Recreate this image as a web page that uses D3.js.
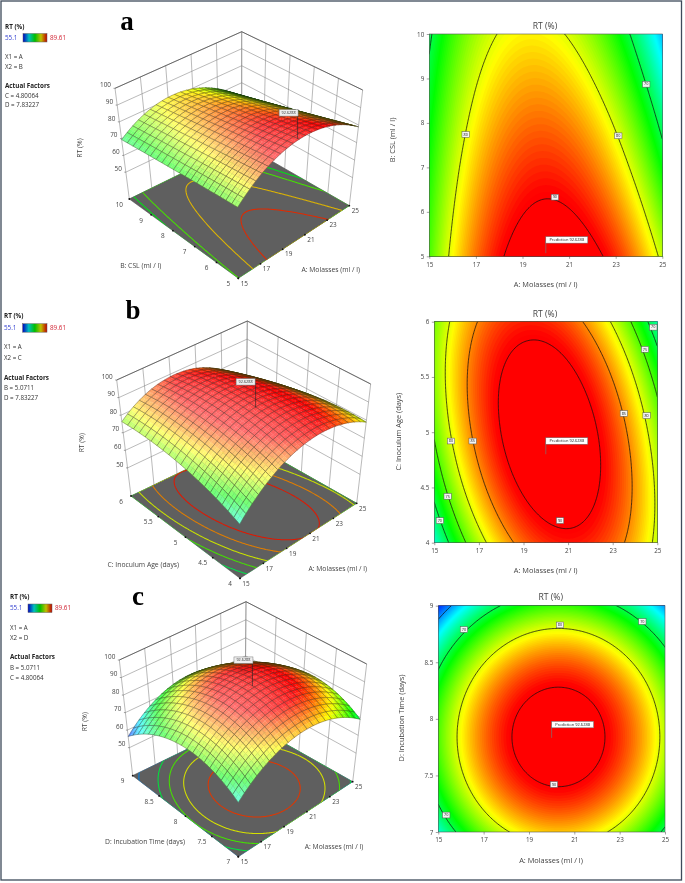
<!DOCTYPE html>
<html>
<head>
<meta charset="utf-8">
<script src="https://cdnjs.cloudflare.com/ajax/libs/d3/7.8.5/d3.min.js"></script>
<style>
  body { margin: 0; background: #fff; }
  svg { display: block; }
  text { font-family: "Open Sans", sans-serif; }
</style>
</head>
<body>
<svg id="chart" width="685" height="883"></svg>
<script>
// factor levels (tick positions)
const molasses = [15, 17, 19, 21, 23, 25];
const csl = [5, 6, 7, 8, 9, 10];
const inoculumAge = [4, 4.5, 5, 5.5, 6];
const incubationTime = [7, 7.5, 8, 8.5, 9];
const rtTicks = [50, 60, 70, 80, 90, 100];

// RT (%) at the tick crossings, one row per second factor level
const rtCsl = [
  [74.80, 85.83, 91.75, 92.59, 88.35, 79.00],
  [73.94, 84.43, 89.84, 90.19, 85.46, 75.66],
  [72.97, 82.93, 87.83, 87.68, 82.47, 72.21],
  [71.87, 81.32, 85.73, 85.10, 79.43, 68.72],
  [70.72, 79.64, 83.53, 82.40, 76.25, 65.07],
  [69.40, 77.83, 81.24, 79.63, 73.01, 61.38]
];
const rtAge = [
  [65.20, 78.30, 86.30, 89.00, 86.50, 78.90],
  [71.46, 83.60, 90.48, 92.03, 88.28, 79.27],
  [75.40, 86.50, 92.26, 92.67, 87.71, 77.39],
  [77.00, 87.09, 91.63, 90.93, 84.78, 73.27],
  [76.30, 85.20, 88.60, 86.80, 79.50, 66.90]
];
const rtTime = [
  [65.17, 76.06, 81.88, 82.64, 78.34, 68.97],
  [73.29, 84.18, 90.00, 90.76, 86.46, 77.09],
  [74.53, 85.42, 91.24, 92.00, 87.70, 78.33],
  [68.89, 79.78, 85.60, 86.36, 82.06, 72.69],
  [56.36, 67.25, 73.07, 73.83, 69.53, 60.16]
];

const levelsCsl = [70, 80, 90];
const levelsAge = [70, 75, 80, 85, 90];
const levelsTime = [60, 70, 80, 90];
// the floor of the 3D plots carries its own contour levels
const floorCsl = [71.5, 75, 82.6, 88];
const floorAge = [69.5, 75, 80, 84.8, 88.7];
const floorTime = [60, 70, 75, 80.5, 87.5];

// contour label positions [A, second factor, text]
const labelsCsl = [[24.31, 8.87, "70"], [16.56, 7.74, "80"], [23.11, 7.71, "80"], [20.39, 6.33, "90"]];
const labelsAge = [[24.82, 5.95, "70"], [24.45, 5.75, "75"], [23.5, 5.17, "85"], [24.52, 5.15, "80"],
  [15.75, 4.92, "80"], [16.72, 4.92, "85"], [15.6, 4.42, "75"], [15.25, 4.2, "70"], [20.64, 4.2, "90"]];
const labelsTime = [[24, 8.86, "70"], [16.13, 8.79, "70"], [20.37, 8.83, "80"], [20.1, 7.42, "90"], [15.35, 7.15, "70"]];

const legendLow = "55.1", legendHigh = "89.61";
const colorStops = [55.1, 63.73, 72.36, 80.98, 89.61];
const colorRange = ["#0000ff", "#00ffff", "#00ff00", "#ffff00", "#ff0000"];

const panels = [
  { letter: "a", grid: rtCsl, second: csl, secondName: "B: CSL (ml / l)", levels: levelsCsl, floor: floorCsl, labels: labelsCsl,
    predict: [20, 5.0711, "92.6288"], x2: "X2 = B", facts: ["C = 4.80064", "D = 7.83227"],
    legend: { x: 5, rt: 27, vals: 38, gx: 23, gy: 33.5, gw: 24, x1: 57, x2: 67, af: 86, f1: 96, f2: 105 },
    letterPos: [127, 30],
    // corners of the 3D box on screen: floor F, R, L, K then top F, R, L, K
    box: { f: [238.3, 278.3], r: [349.3, 205.7], l: [129.3, 199], k: [241.7, 144],
           tf: [237.3, 163.3], tr: [362.7, 90], tl: [115, 88.3], tk: [241.7, 31.7] },
    aLab: [330.7, 270], sLab: [140.7, 265.7], zLab: [80, 148], flagDX: -9,
    heat: { x0: 429.3, x1: 662.3, y0: 34, y1: 256.3, titleX: 545, titleY: 27 , tickY: 268, labY: 285, labX: 545.7, yLabX: 392.7, yLabY: 140 } },
  { letter: "b", grid: rtAge, second: inoculumAge, secondName: "C: Inoculum Age (days)", levels: levelsAge, floor: floorAge, labels: labelsAge,
    predict: [20, 4.80064, "92.6288"], x2: "X2 = C", facts: ["B = 5.0711", "D = 7.83227"],
    legend: { x: 4, rt: 316.7, vals: 328, gx: 22.6, gy: 323.7, gw: 24.4, x1: 347.7, x2: 358, af: 378, f1: 388.6, f2: 398 },
    letterPos: [133, 319],
    box: { f: [240, 578.3], r: [356.7, 503.3], l: [131, 496], k: [246, 440.7],
           tf: [239.3, 463.7], tr: [370.7, 384], tl: [116.7, 380], tk: [247.3, 321] },
    aLab: [337.7, 569], sLab: [143.3, 565], zLab: [81.7, 442.7], flagDX: -10,
    heat: { x0: 434.3, x1: 657.3, y0: 321.7, y1: 542.7, titleX: 545, titleY: 315, tickY: 554, labY: 571, labX: 545.7, yLabX: 399, yLabY: 431.7 } },
  { letter: "c", grid: rtTime, second: incubationTime, secondName: "D: Incubation Time (days)", levels: levelsTime, floor: floorTime, labels: labelsTime,
    predict: [20, 7.83227, "92.6288"], x2: "X2 = D", facts: ["B = 5.0711", "C = 4.80064"],
    legend: { x: 10, rt: 597.7, vals: 608, gx: 28, gy: 604, gw: 24, x1: 628, x2: 638, af: 657.7, f1: 668, f2: 678 },
    letterPos: [138, 605],
    box: { f: [238.3, 856.7], r: [352.7, 781.7], l: [132.7, 775.7], k: [245, 721],
           tf: [238.3, 741.7], tr: [366.7, 664], tl: [119.3, 660], tk: [246, 601.7] },
    aLab: [334, 846.7], sLab: [145, 842.3], zLab: [85, 721.7], flagDX: -9,
    heat: { x0: 438.3, x1: 665, y0: 605.7, y1: 832, titleX: 550.7, titleY: 597.7, tickY: 844, labY: 861, labX: 551, yLabX: 401.7, yLabY: 718 } }
];

const svg = d3.select("#chart");
const defs = svg.append("defs");
const blur = defs.append("filter").attr("id", "soft")
  .attr("filterUnits", "userSpaceOnUse").attr("x", 0).attr("y", 0).attr("width", 685).attr("height", 883)
  .attr("color-interpolation-filters", "sRGB");
blur.append("feGaussianBlur").attr("stdDeviation", 0.35);

const root = svg.append("g").attr("filter", "url(#soft)");
root.append("rect").attr("width", 685).attr("height", 883).attr("fill", "#fff");

const color = d3.scaleLinear().domain(colorStops).range(colorRange).clamp(true);

// legend gradient
const grad = defs.append("linearGradient").attr("id", "legendGrad");
colorStops.forEach((v, i) => {
  grad.append("stop").attr("offset", i / (colorStops.length - 1))
    .attr("stop-color", d3.interpolateRgb(color(v), "#000")(0.25));
});

// smooth reading between the tick crossings of a grid (only for drawing)
function cr(a, b, c, d, t) {
  return b + 0.5 * t * (c - a + t * (2 * a - 5 * b + 4 * c - d + t * (3 * (b - c) + d - a)));
}
function pick(arr, i) {
  const n = arr.length;
  if (i < 0) return 3 * arr[0] - 3 * arr[1] + arr[2];
  if (i >= n) return 3 * arr[n - 1] - 3 * arr[n - 2] + arr[n - 3];
  return arr[i];
}
function cubic1(arr, u) {
  const i = Math.min(Math.floor(u), arr.length - 2);
  return cr(pick(arr, i - 1), arr[i], arr[i + 1], pick(arr, i + 2), u - i);
}
// u, v in 0..1
function readGrid(grid, u, v) {
  const col = u * (grid[0].length - 1);
  const vals = grid.map(r => cubic1(r, col));
  return cubic1(vals, v * (grid.length - 1));
}

function contourSet(p, n, thresholds) {
  const vals = new Array(n * n);
  for (let j = 0; j < n; j++) for (let i = 0; i < n; i++) {
    vals[j * n + i] = readGrid(p.grid, i / (n - 1), j / (n - 1));
  }
  return d3.contours().size([n, n]).thresholds(thresholds)(vals);
}

function label(g, x, y, txt, opt = {}) {
  return g.append("text").attr("x", x).attr("y", y).text(txt)
    .attr("font-size", opt.size || 6.5)
    .attr("fill", opt.fill || "#333")
    .attr("font-weight", opt.weight || null)
    .attr("text-anchor", opt.anchor || "start")
    .attr("dominant-baseline", "middle");
}

function drawLegend(p) {
  const g = root.append("g"), l = p.legend;
  label(g, l.x, l.rt, "RT  (%)", { weight: 700, size: 6.3, fill: "#222" });
  label(g, l.x, l.vals, legendLow, { fill: "#3340d0", size: 6.3 });
  g.append("rect").attr("x", l.gx).attr("y", l.gy).attr("width", l.gw).attr("height", 8.5)
    .attr("fill", "url(#legendGrad)").attr("stroke", "#666").attr("stroke-width", 0.5);
  label(g, l.gx + l.gw + 3, l.vals, legendHigh, { fill: "#d02030", size: 6.3 });
  label(g, l.x, l.x1, "X1 = A", { size: 6.2 });
  label(g, l.x, l.x2, p.x2, { size: 6.2 });
  label(g, l.x, l.af, "Actual Factors", { weight: 700, size: 6.3, fill: "#222" });
  label(g, l.x, l.f1, p.facts[0], { size: 6.2 });
  label(g, l.x, l.f2, p.facts[1], { size: 6.2 });
  g.append("text").attr("x", p.letterPos[0]).attr("y", p.letterPos[1]).text(p.letter)
    .attr("text-anchor", "middle").attr("font-size", 27).attr("font-weight", 700)
    .style("font-family", "'Liberation Serif', serif").attr("fill", "#000");
}

function drawHeat(p, idx) {
  const h = p.heat, g = root.append("g");
  const sec = p.second;
  const x = d3.scaleLinear().domain([15, 25]).range([h.x0, h.x1]);
  const y = d3.scaleLinear().domain([sec[0], sec[sec.length - 1]]).range([h.y1, h.y0]);
  const n = 161;
  // grid cell index back to data units
  const toData = d3.geoTransform({
    point(px, py) {
      this.stream.point(x(15 + (px - 0.5) / (n - 1) * 10), y(sec[0] + (py - 0.5) / (n - 1) * (sec[sec.length - 1] - sec[0])));
    }
  });
  const path = d3.geoPath(toData);
  defs.append("clipPath").attr("id", "heatClip" + idx).append("rect")
    .attr("x", h.x0).attr("y", h.y0).attr("width", h.x1 - h.x0).attr("height", h.y1 - h.y0);
  const plot = g.append("g").attr("clip-path", `url(#heatClip${idx})`);
  plot.append("rect").attr("x", h.x0).attr("y", h.y0).attr("width", h.x1 - h.x0).attr("height", h.y1 - h.y0)
    .attr("fill", color(55));
  plot.selectAll("path.band").data(contourSet(p, n, d3.range(55, 94, 0.35))).join("path")
    .attr("class", "band").attr("d", path).attr("fill", d => color(d.value + 0.17));
  plot.selectAll("path.line").data(contourSet(p, n, p.levels)).join("path")
    .attr("class", "line").attr("d", path).attr("fill", "none")
    .attr("stroke", "#111").attr("stroke-width", 0.75);

  g.append("rect").attr("x", h.x0).attr("y", h.y0).attr("width", h.x1 - h.x0).attr("height", h.y1 - h.y0)
    .attr("fill", "none").attr("stroke", "#555").attr("stroke-width", 0.6);

  const axB = g.append("g").attr("transform", `translate(0,${h.y1})`)
    .call(d3.axisBottom(x).tickValues(molasses).tickSize(2.5).tickFormat(String));
  const axL = g.append("g").attr("transform", `translate(${h.x0},0)`)
    .call(d3.axisLeft(y).tickValues(sec).tickSize(2.5).tickFormat(String));
  [axB, axL].forEach(a => {
    a.select(".domain").remove();
    a.selectAll("line").attr("stroke", "#444").attr("stroke-width", 0.5);
    a.selectAll("text").attr("font-size", 6.3).attr("fill", "#444").style("font-family", "'Open Sans', sans-serif");
  });
  axB.selectAll("text").attr("y", 6);
  axL.selectAll("text").attr("x", -5);

  label(g, h.titleX, h.titleY, "RT   (%)", { size: 8.6, anchor: "middle", fill: "#444" });
  label(g, h.labX, h.labY, "A: Molasses (ml / l)", { size: 7.4, anchor: "middle", fill: "#444" });
  label(g, 0, 0, p.secondName, { size: 7.4, anchor: "middle", fill: "#444" })
    .attr("transform", `translate(${h.yLabX},${h.yLabY}) rotate(-90)`);

  p.labels.forEach(d => {
    g.append("rect").attr("x", x(d[0]) - 3.7).attr("y", y(d[1]) - 2.9).attr("width", 7.4).attr("height", 5.8)
      .attr("fill", "#f4f4f4").attr("stroke", "#555").attr("stroke-width", 0.5);
    label(g, x(d[0]), y(d[1]) + 0.2, d[2], { size: 3.8, anchor: "middle", fill: "#222" });
  });

  const px = x(p.predict[0]), py = y(p.predict[1]);
  g.append("line").attr("x1", px).attr("x2", px).attr("y1", py).attr("y2", py - 12.5)
    .attr("stroke", "#777").attr("stroke-width", 0.7);
  g.append("rect").attr("x", px).attr("y", py - 16.5).attr("width", 42).attr("height", 6.5)
    .attr("fill", "#fff").attr("stroke", "#666").attr("stroke-width", 0.5);
  label(g, px + 21, py - 13.1, "Prediction  " + p.predict[2], { size: 4, anchor: "middle", fill: "#222" });
}

const lerp = (a, b, t) => a + (b - a) * t;

function draw3d(p, idx) {
  const g = root.append("g"), b = p.box, sec = p.second;
  const xs = d3.scaleLinear().domain([15, 25]).range([0, 1]);
  const ys = d3.scaleLinear().domain([sec[0], sec[sec.length - 1]]).range([0, 1]);
  const zs = d3.scaleLinear().domain([34, 100]).range([0, 1]);
  // u along A, v along second factor, w up
  function proj(u, v, w) {
    const corner = (f, r, l, k) => [0, 1].map(c =>
      lerp(lerp(f[c], r[c], u), lerp(l[c], k[c], u), v));
    const lo = corner(b.f, b.r, b.l, b.k), hi = corner(b.tf, b.tr, b.tl, b.tk);
    return [lerp(lo[0], hi[0], w), lerp(lo[1], hi[1], w)];
  }
  const line = d3.line();

  // back walls
  const wall = g.append("g").attr("fill", "none").attr("stroke", "#808080").attr("stroke-width", 0.55);
  wall.append("path").attr("d", line([proj(0, 1, 0), proj(1, 1, 0), proj(1, 0, 0)]));
  rtTicks.forEach(t => {
    wall.append("path").attr("d", line([proj(0, 1, zs(t)), proj(1, 1, zs(t)), proj(1, 0, zs(t))]));
  });
  molasses.forEach(t => wall.append("path").attr("d", line([proj(xs(t), 1, 0), proj(xs(t), 1, 1)])));
  sec.forEach(t => wall.append("path").attr("d", line([proj(1, ys(t), 0), proj(1, ys(t), 1)])));
  g.append("path").attr("d", line([proj(0, 1, 1), proj(1, 1, 1), proj(1, 0, 1)]))
    .attr("fill", "none").attr("stroke", "#444").attr("stroke-width", 0.7);

  // floor with coloured contours
  const floorPts = [proj(0, 0, 0), proj(1, 0, 0), proj(1, 1, 0), proj(0, 1, 0)];
  g.append("path").attr("d", line(floorPts) + "Z").attr("fill", "#5f5f5f").attr("stroke", "#444").attr("stroke-width", 0.5);
  defs.append("clipPath").attr("id", "floorClip" + idx).append("path").attr("d", line(floorPts) + "Z");
  const n = 121;
  const toFloor = d3.geoTransform({
    point(px, py) {
      const q = proj((px - 0.5) / (n - 1), (py - 0.5) / (n - 1), 0);
      this.stream.point(q[0], q[1]);
    }
  });
  g.append("g").attr("clip-path", `url(#floorClip${idx})`).selectAll("path")
    .data(contourSet(p, n, p.floor)).join("path")
    .attr("d", d3.geoPath(toFloor)).attr("fill", "none")
    .attr("stroke", d => d3.interpolateRgb(color(d.value), "#000")(0.12))
    .attr("stroke-width", 1.05);

  // ticks on the two front floor edges
  molasses.forEach(t => {
    const q = proj(xs(t), 0, 0);
    g.append("circle").attr("cx", q[0]).attr("cy", q[1]).attr("r", 0.9).attr("fill", "#111");
    label(g, q[0] + 6, q[1] + 5.5, t, { size: 6.4, anchor: "middle", fill: "#444" });
  });
  sec.forEach(t => {
    const q = proj(0, ys(t), 0);
    g.append("circle").attr("cx", q[0]).attr("cy", q[1]).attr("r", 0.9).attr("fill", "#111");
    label(g, q[0] - 10, q[1] + 6, t, { size: 6.4, anchor: "middle", fill: "#444" });
  });
  rtTicks.forEach(t => {
    const q = proj(0, 1, zs(t));
    label(g, q[0] - 4, q[1] - 3, t, { size: 6.4, anchor: "end", fill: "#444" });
    g.append("line").attr("x1", q[0] - 1.5).attr("x2", q[0]).attr("y1", q[1]).attr("y2", q[1]).attr("stroke", "#444").attr("stroke-width", 0.5);
  });

  label(g, p.aLab[0], p.aLab[1], "A: Molasses (ml / l)", { size: 6.8, anchor: "middle", fill: "#444" });
  label(g, p.sLab[0], p.sLab[1], p.secondName, { size: 6.8, anchor: "middle", fill: "#444" });
  label(g, 0, 0, "RT  (%)", { size: 6.8, anchor: "middle", fill: "#444" })
    .attr("transform", `translate(${p.zLab[0]},${p.zLab[1]}) rotate(-90)`);

  // surface, painted from the back corner to the front one
  const cells = 20, sub = 2, N = cells * sub;
  const at = (i, j) => readGrid(p.grid, i / N, j / N);
  const pt = (i, j) => proj(i / N, j / N, zs(at(i, j)));
  const surf = g.append("g");
  const lightDir = [-0.78, -0.1, 0.62];
  const viewDir = [-0.58, -0.58, 0.57];
  for (let ci = cells - 1; ci >= 0; ci--) for (let cj = cells - 1; cj >= 0; cj--) {
    for (let si = sub - 1; si >= 0; si--) for (let sj = sub - 1; sj >= 0; sj--) {
      const i = ci * sub + si, j = cj * sub + sj;
      const dzu = ((zs(at(i + 1, j)) + zs(at(i + 1, j + 1))) - (zs(at(i, j)) + zs(at(i, j + 1)))) / 2 * N;
      const dzv = ((zs(at(i, j + 1)) + zs(at(i + 1, j + 1))) - (zs(at(i, j)) + zs(at(i + 1, j)))) / 2 * N;
      const len = Math.hypot(dzu, dzv, 1);
      const nrm = [-dzu / len, -dzv / len, 1 / len];
      const sL = d3.sum(nrm, (d, k) => d * lightDir[k]);
      const sV = d3.sum(nrm, (d, k) => d * viewDir[k]);
      let c = color((at(i, j) + at(i + 1, j) + at(i, j + 1) + at(i + 1, j + 1)) / 4);
      c = d3.interpolateRgb(c, "#fff")(0.45 * Math.max(0, Math.min(1, (sL - 0.3) / 0.6)));
      c = d3.interpolateRgb(c, "#000")(0.6 * Math.max(0, Math.min(1, (0.2 - sV) / 0.2)));
      const quad = [pt(i, j), pt(i + 1, j), pt(i + 1, j + 1), pt(i, j + 1)];
      surf.append("path").attr("d", line(quad) + "Z").attr("fill", c).attr("stroke", c).attr("stroke-width", 0.25);
    }
    // cell outline right after its fill so nearer cells can still cover it
    const ring = [];
    for (let s = 0; s <= sub; s++) ring.push(pt(ci * sub + s, cj * sub));
    for (let s = 1; s <= sub; s++) ring.push(pt((ci + 1) * sub, cj * sub + s));
    for (let s = 1; s <= sub; s++) ring.push(pt((ci + 1) * sub - s, (cj + 1) * sub));
    for (let s = 1; s < sub; s++) ring.push(pt(ci * sub, (cj + 1) * sub - s));
    surf.append("path").attr("d", line(ring) + "Z").attr("fill", "none")
      .attr("stroke", "#2a2018").attr("stroke-opacity", 0.6).attr("stroke-width", 0.55);
  }

  // prediction flag
  const s = proj(xs(p.predict[0]), ys(p.predict[1]), zs(+p.predict[2]));
  g.append("line").attr("x1", s[0]).attr("x2", s[0]).attr("y1", s[1]).attr("y2", s[1] - 25)
    .attr("stroke", "#222").attr("stroke-width", 0.6);
  g.append("rect").attr("x", s[0] + p.flagDX - 9.5).attr("y", s[1] - 29).attr("width", 19).attr("height", 6.5)
    .attr("fill", "#eee").attr("stroke", "#777").attr("stroke-width", 0.5);
  label(g, s[0] + p.flagDX, s[1] - 25.6, p.predict[2], { size: 3.8, anchor: "middle", fill: "#333" });
}

panels.forEach((p, i) => {
  drawLegend(p);
  draw3d(p, i);
  drawHeat(p, i);
});

// outer frame of the figure
root.append("rect").attr("x", 1).attr("y", 1).attr("width", 680.5).attr("height", 879)
  .attr("fill", "none").attr("stroke", "#3d4a5a").attr("stroke-width", 1.3);
</script>
</body>
</html>
